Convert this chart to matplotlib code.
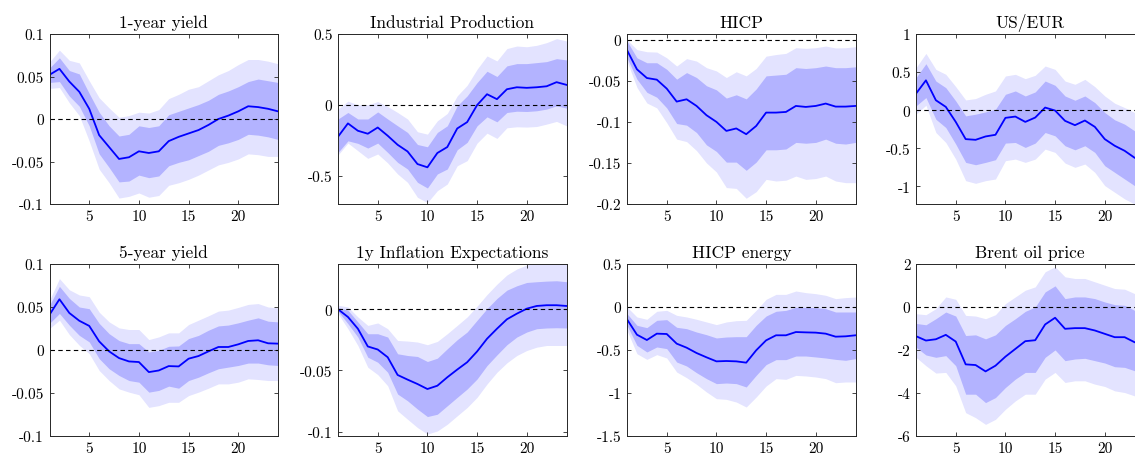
import numpy as np
import matplotlib.pyplot as plt
from matplotlib.ticker import FuncFormatter

plt.rcParams['font.family'] = 'serif'
plt.rcParams['font.serif'] = ['cmr10', 'DejaVu Serif']
plt.rcParams['mathtext.fontset'] = 'cm'
plt.rcParams['axes.unicode_minus'] = False

h = np.arange(1, 25)

# 1-year yield
y1_med = [0.052, 0.059, 0.044, 0.032, 0.012, -0.019, -0.033, -0.047, -0.045, -0.038, -0.040, -0.038,
          -0.026, -0.021, -0.017, -0.013, -0.007, 0.0, 0.004, 0.009, 0.015, 0.014, 0.012, 0.009]
y1_hi68 = [0.060, 0.072, 0.057, 0.053, 0.030, 0.008, -0.008, -0.020, -0.018, -0.008, -0.010, -0.008,
           0.005, 0.009, 0.013, 0.017, 0.022, 0.029, 0.033, 0.038, 0.044, 0.047, 0.045, 0.043]
y1_lo68 = [0.043, 0.044, 0.027, 0.015, -0.008, -0.041, -0.057, -0.074, -0.073, -0.066, -0.069, -0.067,
           -0.055, -0.051, -0.048, -0.043, -0.038, -0.031, -0.028, -0.024, -0.018, -0.019, -0.021, -0.024]
y1_hi90 = [0.067, 0.081, 0.069, 0.066, 0.045, 0.025, 0.013, 0.002, 0.004, 0.008, 0.007, 0.011,
           0.024, 0.029, 0.035, 0.038, 0.045, 0.052, 0.057, 0.064, 0.070, 0.070, 0.068, 0.065]
y1_lo90 = [0.036, 0.037, 0.019, 0.004, -0.026, -0.059, -0.075, -0.093, -0.091, -0.087, -0.092, -0.090,
           -0.078, -0.075, -0.071, -0.066, -0.060, -0.054, -0.051, -0.047, -0.041, -0.042, -0.044, -0.044]

# Industrial Production
ip_med = [-0.225, -0.131, -0.183, -0.204, -0.160, -0.218, -0.282, -0.329, -0.418, -0.441, -0.340, -0.298,
          -0.167, -0.122, -0.002, 0.075, 0.040, 0.110, 0.124, 0.120, 0.124, 0.131, 0.160, 0.141]
ip_hi68 = [-0.100, -0.054, -0.100, -0.100, -0.050, -0.100, -0.148, -0.195, -0.280, -0.296, -0.195, -0.148,
           -0.007, 0.063, 0.157, 0.237, 0.200, 0.275, 0.291, 0.291, 0.298, 0.305, 0.326, 0.317]
ip_lo68 = [-0.336, -0.254, -0.272, -0.305, -0.270, -0.336, -0.406, -0.453, -0.547, -0.587, -0.488, -0.453,
           -0.317, -0.265, -0.148, -0.085, -0.120, -0.054, -0.045, -0.047, -0.042, -0.030, -0.007, -0.023]
ip_hi90 = [-0.030, 0.026, 0.000, 0.000, 0.023, -0.012, -0.054, -0.100, -0.190, -0.207, -0.113, -0.061,
           0.063, 0.138, 0.251, 0.345, 0.310, 0.397, 0.415, 0.410, 0.420, 0.439, 0.467, 0.451]
ip_lo90 = [-0.354, -0.270, -0.324, -0.378, -0.347, -0.410, -0.488, -0.547, -0.653, -0.690, -0.606, -0.559,
           -0.430, -0.394, -0.270, -0.200, -0.237, -0.162, -0.155, -0.157, -0.153, -0.136, -0.117, -0.148]

# HICP
hicp_med = [-0.0126, -0.036, -0.0466, -0.0486, -0.0595, -0.0753, -0.0725, -0.0806, -0.0919, -0.100, -0.111, -0.108,
            -0.115, -0.105, -0.0887, -0.0887, -0.0879, -0.0806, -0.0818, -0.0806, -0.0777, -0.0814, -0.0814, -0.0806]
hicp_hi68 = [-0.0016, -0.022, -0.028, -0.028, -0.036, -0.048, -0.040, -0.046, -0.056, -0.061, -0.071, -0.067,
             -0.072, -0.060, -0.044, -0.043, -0.042, -0.034, -0.035, -0.034, -0.032, -0.034, -0.034, -0.033]
hicp_lo68 = [-0.022, -0.048, -0.064, -0.070, -0.083, -0.102, -0.104, -0.113, -0.128, -0.136, -0.149, -0.149,
             -0.159, -0.149, -0.134, -0.134, -0.133, -0.125, -0.126, -0.125, -0.121, -0.126, -0.127, -0.125]
hicp_hi90 = [0.0, -0.012, -0.0146, -0.015, -0.022, -0.032, -0.023, -0.026, -0.034, -0.038, -0.046, -0.039,
             -0.044, -0.035, -0.020, -0.018, -0.0166, -0.0097, -0.0105, -0.0097, -0.0077, -0.010, -0.0097, -0.0085]
hicp_lo90 = [-0.026, -0.058, -0.077, -0.083, -0.101, -0.121, -0.124, -0.135, -0.150, -0.161, -0.180, -0.181,
             -0.193, -0.185, -0.170, -0.172, -0.171, -0.166, -0.170, -0.169, -0.166, -0.172, -0.174, -0.174]

# US/EUR
fx_med = [0.218, 0.392, 0.131, 0.044, -0.153, -0.379, -0.388, -0.344, -0.322, -0.100, -0.083, -0.153,
          -0.096, 0.035, -0.004, -0.139, -0.196, -0.135, -0.218, -0.379, -0.466, -0.532, -0.623, -0.680]
fx_hi68 = [0.427, 0.610, 0.383, 0.296, 0.122, -0.074, -0.052, -0.022, 0.013, 0.209, 0.253, 0.187,
           0.240, 0.383, 0.327, 0.187, 0.131, 0.187, 0.100, -0.030, -0.126, -0.183, -0.270, -0.330]
fx_lo68 = [0.057, 0.166, -0.118, -0.227, -0.444, -0.684, -0.715, -0.684, -0.649, -0.431, -0.423, -0.488,
           -0.431, -0.292, -0.336, -0.466, -0.519, -0.466, -0.553, -0.728, -0.815, -0.902, -0.989, -1.050]
fx_hi90 = [0.558, 0.745, 0.536, 0.471, 0.309, 0.135, 0.153, 0.209, 0.253, 0.449, 0.471, 0.414,
           0.458, 0.580, 0.536, 0.383, 0.340, 0.405, 0.309, 0.187, 0.092, 0.035, -0.030, -0.080]
fx_lo90 = [-0.052, 0.065, -0.292, -0.423, -0.641, -0.924, -0.959, -0.924, -0.902, -0.662, -0.641, -0.684,
           -0.641, -0.510, -0.553, -0.693, -0.749, -0.706, -0.815, -0.989, -1.076, -1.163, -1.230, -1.300]

# 5-year yield
y5_med = [0.041, 0.059, 0.043, 0.034, 0.028, 0.010, -0.0016, -0.0094, -0.0133, -0.014, -0.0257, -0.0238,
          -0.0187, -0.0191, -0.0101, -0.007, -0.0016, 0.0035, 0.0035, 0.0066, 0.0105, 0.0113, 0.0078, 0.0074]
y5_hi68 = [0.052, 0.074, 0.060, 0.050, 0.048, 0.031, 0.019, 0.011, 0.0074, 0.0074, -0.0023, -0.0004,
           0.0043, 0.0047, 0.0133, 0.017, 0.023, 0.028, 0.029, 0.0316, 0.0347, 0.0374, 0.0335, 0.0327]
y5_lo68 = [0.031, 0.0425, 0.0288, 0.017, 0.0094, -0.010, -0.0218, -0.0296, -0.0355, -0.0374, -0.049, -0.047,
           -0.042, -0.0444, -0.0355, -0.0316, -0.0265, -0.0218, -0.0199, -0.018, -0.0152, -0.0152, -0.0172, -0.018]
y5_hi90 = [0.058, 0.083, 0.070, 0.064, 0.062, 0.044, 0.0327, 0.0257, 0.0238, 0.0238, 0.0121, 0.0152,
           0.0199, 0.0199, 0.0296, 0.0347, 0.0398, 0.0452, 0.0464, 0.0495, 0.053, 0.054, 0.050, 0.049]
y5_lo90 = [0.025, 0.0347, 0.0179, 0.0055, -0.0043, -0.0238, -0.0355, -0.0452, -0.049, -0.052, -0.0667, -0.0647,
           -0.0608, -0.0608, -0.053, -0.049, -0.0444, -0.0394, -0.0394, -0.0374, -0.0335, -0.0343, -0.0355, -0.0355]

# 1y Inflation Expectations
ie_med = [0.0, -0.0063, -0.0159, -0.0304, -0.0329, -0.0392, -0.0537, -0.0575, -0.0611, -0.0652, -0.0625, -0.0556,
          -0.0493, -0.0433, -0.0345, -0.0241, -0.0159, -0.0082, -0.0036, 0.0005, 0.0027, 0.0033, 0.0033, 0.0027]
ie_hi68 = [0.0016, -0.0008, -0.0104, -0.020, -0.020, -0.0227, -0.0364, -0.0378, -0.0386, -0.0427, -0.040, -0.0323,
           -0.0249, -0.0186, -0.009, 0.0005, 0.0088, 0.0156, 0.0192, 0.0219, 0.0225, 0.023, 0.0233, 0.0225]
ie_lo68 = [-0.0016, -0.0118, -0.0227, -0.0392, -0.0433, -0.0515, -0.0693, -0.0748, -0.0816, -0.0877, -0.0858, -0.0789,
           -0.072, -0.0652, -0.057, -0.046, -0.0373, -0.029, -0.0227, -0.0186, -0.0159, -0.0153, -0.0151, -0.0153]
ie_hi90 = [0.0033, 0.0019, -0.0063, -0.0132, -0.0112, -0.0159, -0.0255, -0.026, -0.0268, -0.029, -0.0263, -0.020,
           -0.0132, -0.0063, 0.0025, 0.012, 0.0205, 0.028, 0.0329, 0.0362, 0.038, 0.039, 0.040, 0.040]
ie_lo90 = [-0.0036, -0.0159, -0.0296, -0.0474, -0.0534, -0.0625, -0.083, -0.0899, -0.0967, -0.102, -0.0995, -0.094,
           -0.0871, -0.0803, -0.072, -0.0611, -0.0515, -0.0438, -0.0378, -0.0337, -0.031, -0.0296, -0.0296, -0.0296]

# HICP energy
en_med = [-0.143, -0.322, -0.384, -0.310, -0.314, -0.426, -0.473, -0.535, -0.585, -0.632, -0.628, -0.632,
          -0.647, -0.504, -0.388, -0.329, -0.329, -0.291, -0.295, -0.298, -0.310, -0.345, -0.341, -0.329]
en_hi68 = [-0.078, -0.213, -0.240, -0.155, -0.147, -0.236, -0.252, -0.291, -0.322, -0.360, -0.349, -0.345,
           -0.345, -0.213, -0.105, -0.050, -0.039, -0.004, -0.004, -0.008, -0.019, -0.058, -0.058, -0.058]
en_lo68 = [-0.213, -0.446, -0.523, -0.465, -0.484, -0.640, -0.686, -0.764, -0.833, -0.891, -0.884, -0.891,
           -0.930, -0.795, -0.670, -0.612, -0.612, -0.570, -0.570, -0.581, -0.593, -0.609, -0.620, -0.600]
en_hi90 = [0.0, -0.116, -0.143, -0.050, -0.039, -0.097, -0.116, -0.143, -0.174, -0.205, -0.174, -0.159,
           -0.155, -0.039, 0.089, 0.147, 0.147, 0.186, 0.167, 0.155, 0.136, 0.097, 0.109, 0.116]
en_lo90 = [-0.271, -0.543, -0.609, -0.554, -0.593, -0.756, -0.822, -0.899, -0.988, -1.066, -1.074, -1.105,
           -1.163, -1.047, -0.919, -0.833, -0.841, -0.795, -0.802, -0.814, -0.833, -0.880, -0.872, -0.872]

# Brent oil price
oil_med = [-1.357, -1.56, -1.50, -1.295, -1.607, -2.668, -2.70, -2.995, -2.73, -2.31, -1.95, -1.59,
           -1.545, -0.811, -0.50, -1.014, -0.983, -0.983, -1.092, -1.248, -1.404, -1.404, -1.638, -1.75]
oil_hi68 = [-0.764, -0.827, -0.546, -0.234, -0.421, -1.326, -1.295, -1.482, -1.295, -0.858, -0.546, -0.203,
            0.0, 0.702, 0.983, 0.39, 0.468, 0.468, 0.39, 0.234, 0.109, 0.078, -0.156, -0.39]
oil_lo68 = [-1.872, -2.231, -2.34, -2.262, -2.73, -4.056, -4.056, -4.446, -4.212, -3.744, -3.354, -3.042,
            -3.042, -2.34, -1.997, -2.496, -2.418, -2.387, -2.496, -2.605, -2.777, -2.808, -2.964, -3.12]
oil_hi90 = [-0.312, -0.359, -0.078, 0.468, 0.359, -0.39, -0.421, -0.546, -0.359, 0.156, 0.468, 0.78,
            0.936, 1.638, 1.872, 1.404, 1.326, 1.326, 1.17, 1.014, 0.858, 0.827, 0.624, 0.39]
oil_lo90 = [-2.34, -2.73, -3.073, -3.042, -3.666, -4.914, -5.148, -5.46, -5.226, -4.758, -4.368, -4.056,
            -4.056, -3.354, -3.042, -3.51, -3.432, -3.432, -3.588, -3.697, -3.90, -3.978, -4.134, -4.29]

titles = ['1-year yield', 'Industrial Production', 'HICP', 'US/EUR',
          '5-year yield', '1y Inflation Expectations', 'HICP energy', 'Brent oil price']
panels = [
    (y1_med, y1_lo68, y1_hi68, y1_lo90, y1_hi90),
    (ip_med, ip_lo68, ip_hi68, ip_lo90, ip_hi90),
    (hicp_med, hicp_lo68, hicp_hi68, hicp_lo90, hicp_hi90),
    (fx_med, fx_lo68, fx_hi68, fx_lo90, fx_hi90),
    (y5_med, y5_lo68, y5_hi68, y5_lo90, y5_hi90),
    (ie_med, ie_lo68, ie_hi68, ie_lo90, ie_hi90),
    (en_med, en_lo68, en_hi68, en_lo90, en_hi90),
    (oil_med, oil_lo68, oil_hi68, oil_lo90, oil_hi90),
]
ylims = [(-0.1, 0.1), (-0.7, 0.5), (-0.2, 0.007), (-1.23, 1.0),
         (-0.1, 0.1), (-0.1036, 0.037), (-1.5, 0.5), (-6, 2)]
yticks = [[-0.1, -0.05, 0, 0.05, 0.1], [-0.5, 0, 0.5], [-0.2, -0.15, -0.1, -0.05, 0], [-1, -0.5, 0, 0.5, 1],
          [-0.1, -0.05, 0, 0.05, 0.1], [-0.1, -0.05, 0], [-1.5, -1, -0.5, 0, 0.5], [-6, -4, -2, 0, 2]]

W, H = 1135, 456
fig = plt.figure(figsize=(W / 100, H / 100), dpi=100)

lefts = [49.5, 338, 627, 916]
width = 228.5
rows = [(35, 205), (265, 437)]

light = '#e3e3ff'
mid = '#b3b3ff'
edge = '#262626'

for i, (title, data) in enumerate(zip(titles, panels)):
    r, c = divmod(i, 4)
    top, bot = rows[r]
    ax = fig.add_axes([lefts[c] / W, (H - bot) / H, width / W, (bot - top) / H])
    med, lo68, hi68, lo90, hi90 = data
    ax.fill_between(h, lo90, hi90, color=light, lw=0)
    ax.fill_between(h, lo68, hi68, color=mid, lw=0)
    ax.plot(h, med, color='#0000ff', lw=1.3)
    ax.axhline(0, color='black', ls='--', lw=0.8, dashes=(4, 3))
    ax.set_xlim(1, 24)
    ax.set_ylim(*ylims[i])
    ax.set_xticks([5, 10, 15, 20])
    ax.set_yticks(yticks[i])
    ax.yaxis.set_major_formatter(FuncFormatter(lambda v, p: '{:g}'.format(v)))
    ax.tick_params(direction='in', length=3, width=0.6, top=True, right=True,
                   labelsize=11, colors=edge, labelcolor='black', pad=4)
    for s in ax.spines.values():
        s.set_color(edge)
        s.set_linewidth(0.7)
    ax.set_title(title, fontsize=12.5, pad=5)

fig.savefig('out.png', dpi=100)
